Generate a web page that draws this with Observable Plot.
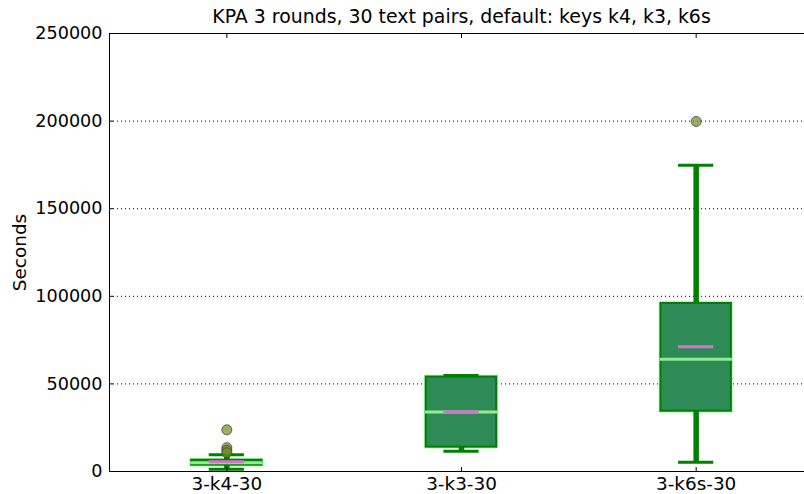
<!DOCTYPE html>
<html>
<head>
<meta charset="utf-8">
<script src="https://cdn.jsdelivr.net/npm/d3@7"></script>
<script src="https://cdn.jsdelivr.net/npm/@observablehq/plot@0.6"></script>
<style>
  html, body { margin: 0; padding: 0; background: white; }
</style>
</head>
<body>
<div id="chart"></div>
<script>
const title = "KPA 3 rounds, 30 text pairs, default: keys k4, k3, k6s";
const yLabel = "Seconds";
const categories = ["3-k4-30", "3-k3-30", "3-k6s-30"];
const q1s = [3600, 13900, 34400];
const q3s = [6400, 53900, 95900];
const medians = [5000, 34000, 64100];
const means = [5600, 34000, 71200];
const whiskerLow = [1300, 11600, 5300];
const whiskerHigh = [9500, 54800, 174800];
const outlierCategory = [0, 0, 0, 0, 2];
const outlierValues = [23800, 13600, 12100, 10700, 199800];
const yTicks = [0, 50000, 100000, 150000, 200000, 250000];
const gridTicks = [50000, 100000, 150000, 200000];

const boxes = categories.map((c, i) => ({
  pos: i + 1, name: c, q1: q1s[i], q3: q3s[i], med: medians[i], mean: means[i],
  lo: whiskerLow[i], hi: whiskerHigh[i]
}));
const outliers = outlierValues.map((v, i) => ({pos: outlierCategory[i] + 1, v}));

const BW = 0.15;  // half box width
const CW = 0.075; // half cap width

const chart = Plot.plot({
  width: 804,
  height: 494,
  marginLeft: 109,
  marginRight: 0,
  marginTop: 33,
  marginBottom: 23,
  style: {fontFamily: "DejaVu Sans", fontSize: "18px", background: "white", color: "black"},
  x: {domain: [0.5, 3.5], range: [109, 813]},
  y: {domain: [0, 250000]},
  marks: [
    Plot.ruleY(gridTicks, {stroke: "black", strokeWidth: 1, strokeDasharray: "1,3"}),
    // boxes
    Plot.rect(boxes, {x1: d => d.pos - BW, x2: d => d.pos + BW, y1: "q1", y2: "q3",
      fill: "none", stroke: "#90ee90", strokeWidth: 3.5, strokeOpacity: 0.8}),
    Plot.rect(boxes, {x1: d => d.pos - BW, x2: d => d.pos + BW, y1: "q1", y2: "q3",
      fill: "#2e8b57", stroke: "#008000", strokeWidth: 2}),
    // whiskers
    Plot.ruleX(boxes, {x: "pos", y1: "q3", y2: "hi", stroke: "#008000", strokeWidth: 5.5}),
    Plot.ruleX(boxes, {x: "pos", y1: "lo", y2: "q1", stroke: "#008000", strokeWidth: 5.5}),
    // caps
    Plot.ruleY(boxes, {y: "hi", x1: d => d.pos - CW, x2: d => d.pos + CW, stroke: "#008000", strokeWidth: 3}),
    Plot.ruleY(boxes, {y: "lo", x1: d => d.pos - CW, x2: d => d.pos + CW, stroke: "#008000", strokeWidth: 3}),
    // median
    Plot.ruleY(boxes, {y: "med", x1: d => d.pos - BW - 0.004, x2: d => d.pos + BW + 0.004, stroke: "#90ee90", strokeWidth: 3}),
    // mean
    Plot.ruleY(boxes, {y: "mean", x1: d => d.pos - CW, x2: d => d.pos + CW, stroke: "#da70d6", strokeWidth: 3}),
    // outliers
    Plot.dot(outliers, {x: "pos", y: "v", r: 5, fill: "#6b8e23", fillOpacity: 0.7, stroke: "#444", strokeWidth: 1, strokeOpacity: 0.8}),
    // spines
    Plot.ruleX([0.5], {stroke: "black", strokeWidth: 1}),
    Plot.ruleY([0], {stroke: "black", strokeWidth: 1}),
    Plot.ruleY([250000], {stroke: "black", strokeWidth: 1}),
    // axes: inward tick marks
    Plot.axisY({ticks: yTicks, tickSize: 4, dx: 4, tickFormat: () => "", stroke: "black", label: null}),
    Plot.axisX({ticks: [1, 2, 3], tickSize: 4, dy: -4, tickFormat: () => "", stroke: "black", label: null}),
    Plot.axisX({anchor: "top", ticks: [1, 2, 3], tickSize: 4, dy: 4, tickFormat: () => "", stroke: "black", label: null}),
    // axes: labels
    Plot.axisY({ticks: yTicks, tickSize: 0, tickPadding: 7, tickFormat: d3.format("d"), fontSize: 17.6, fill: "black", label: null}),
    Plot.axisX({ticks: [1, 2, 3], tickSize: 0, tickPadding: 5, tickFormat: i => categories[i - 1], fontSize: 18.4, fill: "black", label: null}),
    // title and y label
    Plot.text([title], {frameAnchor: "top", dx: 4.5, dy: -17, fontSize: 18.9, fill: "black", textAnchor: "middle", lineAnchor: "middle"}),
    Plot.text([yLabel], {frameAnchor: "left", dx: -89, rotate: -90, fontSize: 18.4, fill: "black", textAnchor: "middle", lineAnchor: "middle"})
  ]
});
document.getElementById("chart").appendChild(chart);
</script>
</body>
</html>
